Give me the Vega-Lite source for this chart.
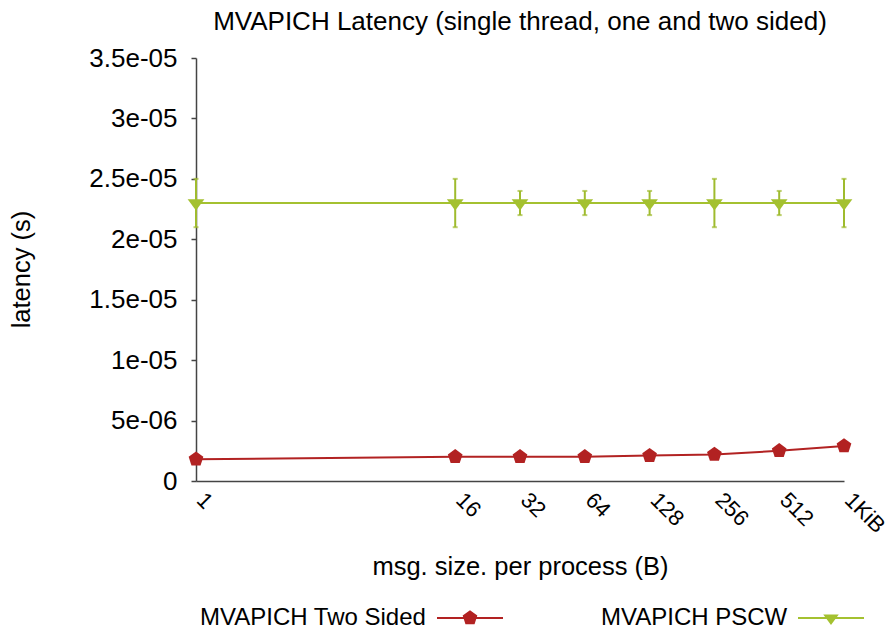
{
  "$schema": "https://vega.github.io/schema/vega-lite/v6.json",
  "width": 648,
  "height": 423,
  "autosize": {"type": "none"},
  "padding": {"left": 196, "top": 58, "right": 46, "bottom": 152},
  "title": {
    "text": "MVAPICH Latency (single thread, one and two sided)",
    "fontSize": 26,
    "font": "Liberation Sans",
    "fontWeight": "normal",
    "color": "#000000",
    "anchor": "middle",
    "baseline": "alphabetic",
    "offset": 10,
    "dy": 21
  },
  "config": {
    "view": {"stroke": null},
    "font": "Liberation Sans",
    "axis": {
      "grid": false,
      "domainColor": "#444444",
      "domainWidth": 1.5,
      "tickColor": "#444444",
      "tickWidth": 1.5,
      "labelFont": "Liberation Sans",
      "labelFontSize": 26,
      "labelColor": "#000000",
      "titleFont": "Liberation Sans",
      "titleFontSize": 25.5,
      "titleFontWeight": "normal",
      "titleColor": "#000000",
      "labelOverlap": false,
      "labelFlush": false
    }
  },
  "data": {
    "values": [
      {"series": "MVAPICH Two Sided", "size": 1, "latency": 1.8e-6},
      {"series": "MVAPICH Two Sided", "size": 16, "latency": 2.0e-6},
      {"series": "MVAPICH Two Sided", "size": 32, "latency": 2.0e-6},
      {"series": "MVAPICH Two Sided", "size": 64, "latency": 2.0e-6},
      {"series": "MVAPICH Two Sided", "size": 128, "latency": 2.1e-6},
      {"series": "MVAPICH Two Sided", "size": 256, "latency": 2.2e-6},
      {"series": "MVAPICH Two Sided", "size": 512, "latency": 2.5e-6},
      {"series": "MVAPICH Two Sided", "size": 1024, "latency": 2.9e-6},
      {"series": "MVAPICH PSCW", "size": 1, "latency": 2.3e-5, "lo": 2.1e-5, "hi": 2.5e-5},
      {"series": "MVAPICH PSCW", "size": 16, "latency": 2.3e-5, "lo": 2.1e-5, "hi": 2.5e-5},
      {"series": "MVAPICH PSCW", "size": 32, "latency": 2.3e-5, "lo": 2.2e-5, "hi": 2.4e-5},
      {"series": "MVAPICH PSCW", "size": 64, "latency": 2.3e-5, "lo": 2.2e-5, "hi": 2.4e-5},
      {"series": "MVAPICH PSCW", "size": 128, "latency": 2.3e-5, "lo": 2.2e-5, "hi": 2.4e-5},
      {"series": "MVAPICH PSCW", "size": 256, "latency": 2.3e-5, "lo": 2.1e-5, "hi": 2.5e-5},
      {"series": "MVAPICH PSCW", "size": 512, "latency": 2.3e-5, "lo": 2.2e-5, "hi": 2.4e-5},
      {"series": "MVAPICH PSCW", "size": 1024, "latency": 2.3e-5, "lo": 2.1e-5, "hi": 2.5e-5}
    ]
  },
  "encoding": {
    "x": {
      "field": "size",
      "type": "quantitative",
      "title": "msg. size. per process (B)",
      "scale": {"type": "log", "base": 2, "domain": [1, 1024], "nice": false},
      "axis": {
        "values": [1, 16, 32, 64, 128, 256, 512, 1024],
        "labelExpr": "datum.value == 1024 ? '1KiB' : '' + datum.value",
        "labelAngle": 45,
        "labelAlign": "left",
        "labelBaseline": "middle",
        "labelPadding": 15,
        "labelOffset": 4,
        "labelFontSize": 22,
        "ticks": false,
        "titleY": 93,
        "titleBaseline": "alphabetic"
      }
    },
    "y": {
      "field": "latency",
      "type": "quantitative",
      "title": "latency (s)",
      "scale": {"domain": [0, 3.5e-5], "nice": false, "zero": true},
      "axis": {
        "values": [0, 5e-6, 1e-5, 1.5e-5, 2e-5, 2.5e-5, 3e-5, 3.5e-5],
        "labelExpr": "datum.value == 0 ? '0' : replace(format(datum.value, '~e'), regexp('e-([0-9])$'), 'e-0$1')",
        "tickSize": 5,
        "labelPadding": 14,
        "titleAngle": -90,
        "titleAlign": "center",
        "titleBaseline": "middle",
        "titleX": -175,
        "titleY": 211
      }
    }
  },
  "layer": [
    {
      "mark": {"type": "line", "strokeWidth": 2},
      "encoding": {
        "color": {
          "field": "series",
          "type": "nominal",
          "scale": {"domain": ["MVAPICH Two Sided", "MVAPICH PSCW"], "range": ["#b22222", "#a4c130"]},
          "legend": {
            "orient": "none",
            "legendX": 4,
            "legendY": 527,
            "direction": "horizontal",
            "title": null,
            "padding": 0,
            "labelFont": "Liberation Sans",
            "labelFontSize": 24,
            "labelColor": "#000000",
            "labelLimit": 400,
            "columnPadding": 98,
            "symbolSize": 4356,
            "encode": {
              "symbols": {
                "update": {
                  "shape": {"signal": "datum.value === 'MVAPICH Two Sided' ? 'M-1,-0.03H1V0.03H-1Z M0,-0.234L0.2225,-0.0723L0.1376,0.1893L-0.1376,0.1893L-0.2225,-0.0723Z' : 'M-1,-0.03H1V0.03H-1Z M-0.235,-0.106L0.235,-0.106L0,0.212Z'"},
                  "x": {"signal": "datum.value === 'MVAPICH Two Sided' ? 270 : 230"},
                  "fill": {"signal": "datum.value === 'MVAPICH Two Sided' ? '#b22222' : '#a4c130'"},
                  "stroke": {"value": "transparent"},
                  "strokeWidth": {"value": 0},
                  "size": {"value": 4356},
                  "opacity": {"value": 1}
                }
              },
              "labels": {
                "update": {
                  "x": {"value": 0},
                  "align": {"value": "left"}
                }
              }
            }
          }
        }
      }
    },
    {
      "transform": [{"filter": "datum.lo != null"}],
      "mark": {"type": "rule", "color": "#9fbb2e", "strokeWidth": 2},
      "encoding": {
        "y": {"field": "lo", "type": "quantitative", "title": "latency (s)"},
        "y2": {"field": "hi"}
      }
    },
    {
      "transform": [{"filter": "datum.lo != null"}],
      "mark": {"type": "tick", "orient": "horizontal", "color": "#9fbb2e", "size": 5, "thickness": 2},
      "encoding": {
        "y": {"field": "lo", "type": "quantitative", "title": "latency (s)"}
      }
    },
    {
      "transform": [{"filter": "datum.lo != null"}],
      "mark": {"type": "tick", "orient": "horizontal", "color": "#9fbb2e", "size": 5, "thickness": 2},
      "encoding": {
        "y": {"field": "hi", "type": "quantitative", "title": "latency (s)"}
      }
    },
    {
      "transform": [{"filter": "datum.series == 'MVAPICH Two Sided'"}],
      "mark": {
        "type": "point",
        "filled": true,
        "size": 279,
        "opacity": 1,
        "color": "#b22222",
        "shape": "M0,-0.926L0.880,-0.286L0.544,0.749L-0.544,0.749L-0.880,-0.286Z"
      },
      "encoding": {}
    },
    {
      "transform": [{"filter": "datum.series == 'MVAPICH PSCW'"}],
      "mark": {
        "type": "point",
        "filled": true,
        "size": 279,
        "opacity": 1,
        "color": "#a4c130",
        "shape": "M-1,-0.453L1,-0.453L0,0.907Z"
      },
      "encoding": {}
    }
  ]
}
